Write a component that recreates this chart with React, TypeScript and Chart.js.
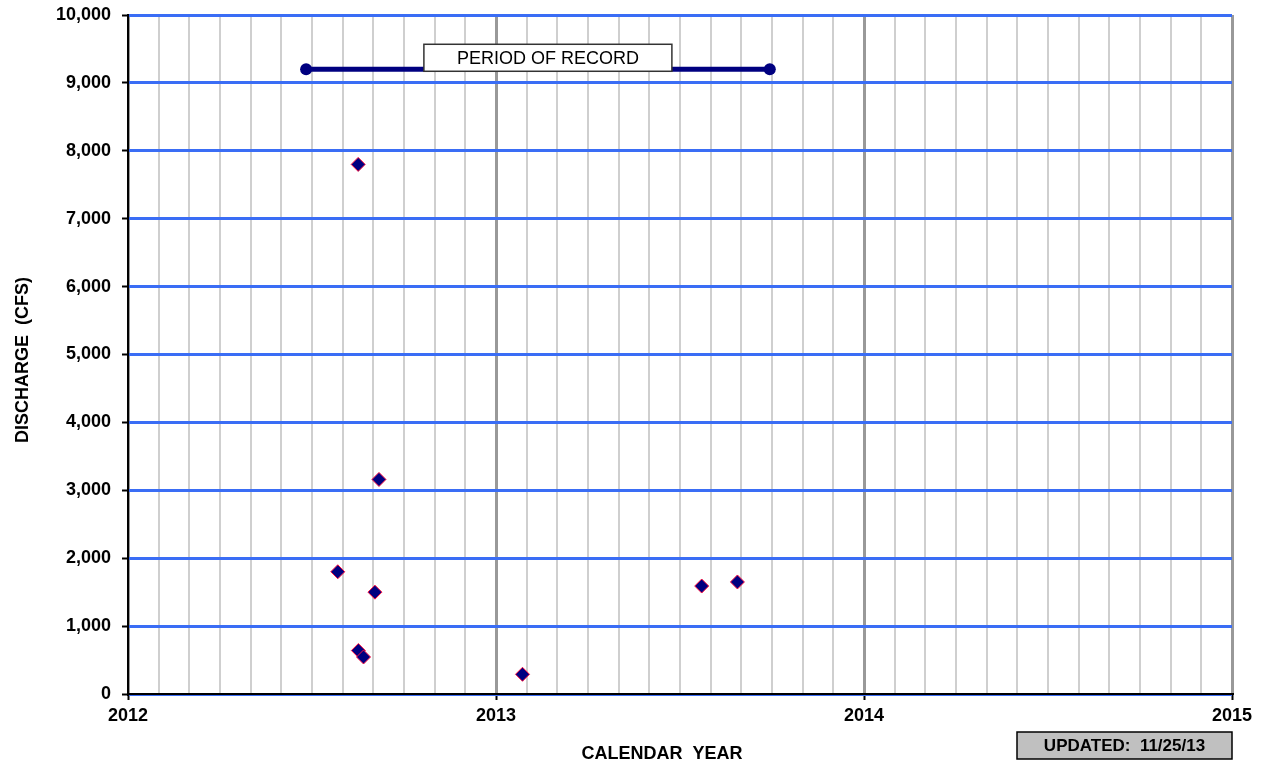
import { useEffect, useRef } from "react";
import { Chart, registerables } from "chart.js";
Chart.register(...registerables);

// ---- data ----
const yearStart = 2012;
const yearEnd = 2015;
const monthsPerYear = 12;
const dischargeMin = 0;
const dischargeMax = 10000;
const dischargeStep = 1000;

const obsYear = [2012.570, 2012.6255, 2012.626, 2012.640, 2012.671, 2012.682, 2013.072, 2013.559, 2013.656];
const obsDischarge = [1800, 7800, 640, 545, 1500, 3160, 290, 1590, 1650];

const periodYears = [2012.484, 2013.744];
const periodDischarge = [9200, 9200];
const periodLabel = "PERIOD OF RECORD";
const periodLabelYear = 2013.141;
const periodLabelDischarge = 9370;

const xTitle = "CALENDAR  YEAR";
const yTitle = "DISCHARGE  (CFS)";
const updatedText = "UPDATED:  11/25/13";

const FONT = "'Liberation Sans', Arial, sans-serif";

const isYear = (v: number) => Math.abs(v - Math.round(v)) < 1e-6;

const annotPlugin = {
  id: "annot",
  afterDatasetsDraw(chart: any) {
    const { ctx, scales } = chart;
    const cx = scales.x.getPixelForValue(periodLabelYear);
    const cy = scales.y.getPixelForValue(periodLabelDischarge);
    const w = 248, h = 27;
    ctx.save();
    ctx.fillStyle = "#ffffff";
    ctx.fillRect(cx - w / 2, cy - h / 2, w, h);
    ctx.strokeStyle = "#333333";
    ctx.lineWidth = 1.5;
    ctx.strokeRect(cx - w / 2, cy - h / 2, w, h);
    ctx.fillStyle = "#000000";
    ctx.font = `18px ${FONT}`;
    ctx.textAlign = "center";
    ctx.textBaseline = "middle";
    ctx.fillText(periodLabel, cx, cy + 1);
    ctx.restore();
  },
  afterDraw(chart: any) {
    const { ctx, chartArea } = chart;
    ctx.save();
    ctx.fillStyle = "#000000";
    ctx.font = `bold 18px ${FONT}`;
    ctx.textAlign = "center";
    ctx.textBaseline = "middle";
    // x title
    ctx.fillText(xTitle, chartArea.left + 534, 754);
    // y title
    ctx.save();
    ctx.translate(23, 360);
    ctx.rotate(-Math.PI / 2);
    ctx.fillText(yTitle, 0, 0);
    ctx.restore();
    // updated box
    const bx = 1017, by = 732, bw = 215, bh = 27;
    ctx.fillStyle = "#c0c0c0";
    ctx.fillRect(bx, by, bw, bh);
    ctx.strokeStyle = "#000000";
    ctx.lineWidth = 1.5;
    ctx.strokeRect(bx, by, bw, bh);
    ctx.fillStyle = "#000000";
    ctx.font = `bold 17px ${FONT}`;
    ctx.fillText(updatedText, bx + bw / 2, by + bh / 2 + 1);
    ctx.restore();
  },
};

export default function App() {
  const ref = useRef<HTMLCanvasElement>(null);
  useEffect(() => {
    if (!ref.current) return;
    Chart.defaults.font.family = FONT;
    const chart = new Chart(ref.current, {
      type: "scatter",
      data: {
        datasets: [
          {
            label: "Period",
            data: periodYears.map((x, i) => ({ x, y: periodDischarge[i] })),
            showLine: true,
            borderColor: "#000080",
            backgroundColor: "#000080",
            borderWidth: 5,
            pointRadius: 6,
            pointBackgroundColor: "#000080",
            pointBorderColor: "#000080",
            pointBorderWidth: 0,
          },
          {
            label: "Discharge",
            data: obsYear.map((x, i) => ({ x, y: obsDischarge[i] })),
            showLine: false,
            pointStyle: "rectRot",
            pointRadius: 7,
            pointBackgroundColor: "#000080",
            pointBorderColor: "#ff1040",
            pointBorderWidth: 1,
          },
        ],
      },
      options: {
        responsive: false,
        animation: false,
        layout: { padding: { top: 15, right: 34, bottom: 0, left: 0 } },
        plugins: { legend: { display: false }, tooltip: { enabled: false }, title: { display: false } },
        scales: {
          x: {
            type: "linear",
            min: yearStart,
            max: yearEnd,
            afterBuildTicks: (scale: any) => {
              const t = [];
              const n = (yearEnd - yearStart) * monthsPerYear;
              for (let i = 0; i <= n; i++) t.push({ value: yearStart + i / monthsPerYear });
              scale.ticks = t;
            },
            afterFit: (scale: any) => {
              scale.height = 75;
            },
            ticks: {
              autoSkip: false,
              maxRotation: 0,
              padding: 5,
              color: "#000000",
              font: { size: 18, weight: "bold" },
              callback: (v: any) => (isYear(Number(v)) ? String(Math.round(Number(v))) : ""),
            },
            grid: {
              z: -2,
              color: (c: any) => (c.tick && isYear(c.tick.value) ? "#999999" : "#cfcfcf"),
              lineWidth: (c: any) => (c.tick && isYear(c.tick.value) ? 3 : 2),
              drawTicks: true,
              tickLength: 6,
              tickColor: (c: any) => (c.tick && isYear(c.tick.value) ? "#000000" : "rgba(0,0,0,0)"),
              tickWidth: 2,
            },
            border: { display: true, color: "#000000", width: 2 },
          },
          y: {
            type: "linear",
            min: dischargeMin,
            max: dischargeMax,
            afterFit: (scale: any) => {
              scale.width = 128;
              scale.paddingTop = 0;
              scale.paddingBottom = 0;
            },
            ticks: {
              stepSize: dischargeStep,
              padding: 11,
              color: "#000000",
              font: { size: 18, weight: "bold" },
              callback: (v: any) => Number(v).toLocaleString("en-US"),
            },
            grid: {
              z: -1,
              color: "#3a6df5",
              lineWidth: 3,
              drawTicks: true,
              tickLength: 6,
              tickColor: "#000000",
              tickWidth: 2,
            },
            border: { display: true, color: "#000000", width: 2 },
          },
        },
      },
      plugins: [annotPlugin],
    } as any);
    return () => chart.destroy();
  }, []);
  return (
    <div style={{ position: "fixed", left: 0, top: 0, width: 1266, height: 769, background: "#ffffff" }}>
      <canvas ref={ref} width={1266} height={769} style={{ display: "block" }} />
    </div>
  );
}
